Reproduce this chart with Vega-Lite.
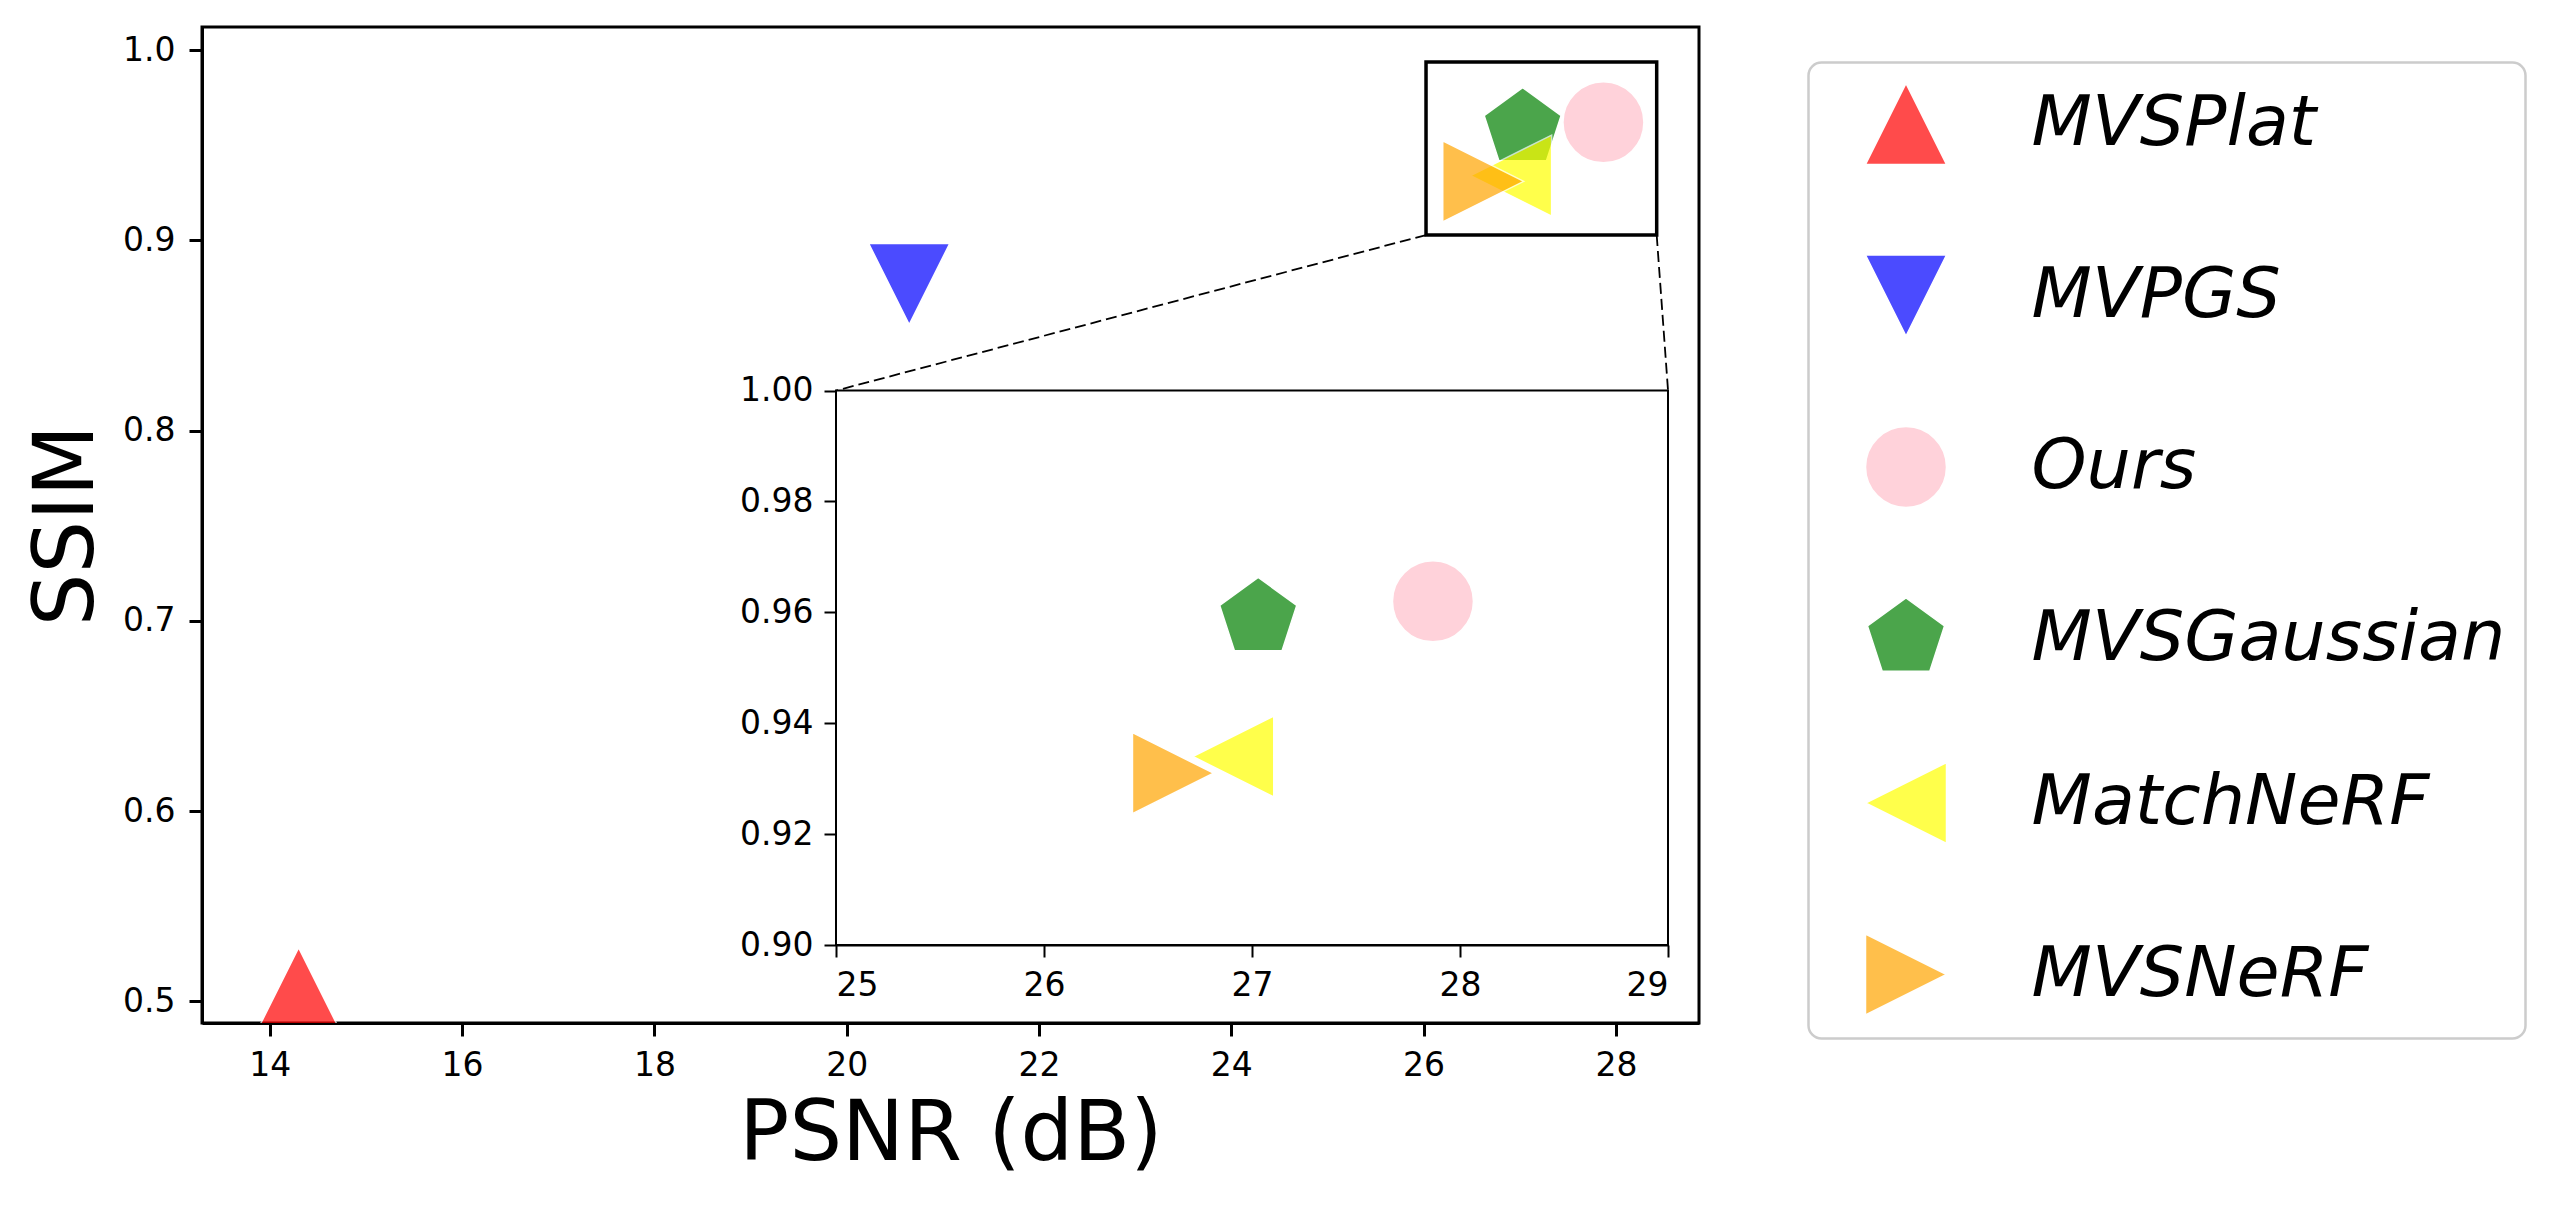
{
  "$schema": "https://vega.github.io/schema/vega-lite/v6.json",
  "width": 1497,
  "height": 996,
  "autosize": {"type": "none"},
  "padding": {"left": 202, "top": 27, "right": 856, "bottom": 182},
  "background": "white",
  "datasets": {
    "methods": [
      {"method": "MVSPlat", "psnr": 14.30, "ssim": 0.507},
      {"method": "MVPGS", "psnr": 20.65, "ssim": 0.877},
      {"method": "Ours", "psnr": 27.87, "ssim": 0.962},
      {"method": "MVSGaussian", "psnr": 27.03, "ssim": 0.959},
      {"method": "MatchNeRF", "psnr": 26.91, "ssim": 0.934},
      {"method": "MVSNeRF", "psnr": 26.62, "ssim": 0.931}
    ],
    "zoomBox": [
      {"x1": 26.025, "x2": 28.424, "y1": 0.90278, "y2": 0.99369}
    ],
    "connectors": [
      {"x": 26.025, "y": 0.90278, "x2": 19.889, "y2": 0.82102},
      {"x": 28.424, "y": 0.90278, "x2": 28.542, "y2": 0.82102}
    ],
    "insetFrame": [
      {"x1": 25, "x2": 29, "y1": 0.90, "y2": 1.00}
    ]
  },
  "layer": [
    {
      "layer": [
        {
          "data": {"name": "methods"},
          "mark": {"type": "point", "filled": true, "opacity": 0.7, "stroke": "white", "strokeWidth": 1.5, "size": 6561, "clip": true},
          "encoding": {
            "x": {
              "field": "psnr", "type": "quantitative", "title": "PSNR (dB)",
              "scale": {"domain": [13.295, 28.864], "nice": false, "zero": false},
              "axis": {
                "values": [14, 16, 18, 20, 22, 24, 26, 28], "format": "d",
                "tickSize": 13, "tickWidth": 3, "domainWidth": 3, "labelPadding": 13,
                "titleFontSize": 83, "titlePadding": 11
              }
            },
            "y": {
              "field": "ssim", "type": "quantitative", "title": "SSIM",
              "scale": {"domain": [0.4887, 1.0121], "nice": false, "zero": false},
              "axis": {
                "values": [0.5, 0.6, 0.7, 0.8, 0.9, 1.0], "format": ".1f",
                "tickSize": 13, "tickWidth": 3, "domainWidth": 3, "labelPadding": 14,
                "titleFontSize": 83, "titlePadding": 30, "titleBaseline": "alphabetic"
              }
            },
            "color": {
              "field": "method", "type": "nominal",
              "scale": {
                "domain": ["MVSPlat", "MVPGS", "Ours", "MVSGaussian", "MatchNeRF", "MVSNeRF"],
                "range": ["#ff0000", "#0000ff", "#ffc0cb", "#008000", "#ffff00", "#ffa500"]
              },
              "legend": null
            },
            "shape": {
              "field": "method", "type": "nominal",
              "scale": {
                "domain": ["MVSPlat", "MVPGS", "Ours", "MVSGaussian", "MatchNeRF", "MVSNeRF"],
                "range": [
                  "M0,-1L1,1L-1,1Z",
                  "M0,1L1,-1L-1,-1Z",
                  "circle",
                  "M0,-1L0.951,-0.309L0.588,0.809L-0.588,0.809L-0.951,-0.309Z",
                  "M-1,0L1,-1L1,1Z",
                  "M1,0L-1,-1L-1,1Z"
                ]
              },
              "legend": null
            }
          }
        },
        {
          "data": {"name": "zoomBox"},
          "mark": {"type": "rect", "filled": false, "color": "black", "strokeWidth": 3.5},
          "encoding": {
            "x": {
              "field": "x1", "type": "quantitative", "title": "PSNR (dB)",
              "scale": {"domain": [13.295, 28.864], "nice": false, "zero": false},
              "axis": {
                "values": [14, 16, 18, 20, 22, 24, 26, 28], "format": "d",
                "tickSize": 13, "tickWidth": 3, "domainWidth": 3, "labelPadding": 13,
                "titleFontSize": 83, "titlePadding": 11
              }
            },
            "x2": {"field": "x2"},
            "y": {
              "field": "y1", "type": "quantitative", "title": "SSIM",
              "scale": {"domain": [0.4887, 1.0121], "nice": false, "zero": false},
              "axis": {
                "values": [0.5, 0.6, 0.7, 0.8, 0.9, 1.0], "format": ".1f",
                "tickSize": 13, "tickWidth": 3, "domainWidth": 3, "labelPadding": 14,
                "titleFontSize": 83, "titlePadding": 30, "titleBaseline": "alphabetic"
              }
            },
            "y2": {"field": "y2"}
          }
        },
        {
          "data": {"name": "connectors"},
          "mark": {"type": "rule", "color": "black", "strokeWidth": 1.8, "strokeDash": [11, 5]},
          "encoding": {
            "x": {
              "field": "x", "type": "quantitative", "title": "PSNR (dB)",
              "scale": {"domain": [13.295, 28.864], "nice": false, "zero": false},
              "axis": {
                "values": [14, 16, 18, 20, 22, 24, 26, 28], "format": "d",
                "tickSize": 13, "tickWidth": 3, "domainWidth": 3, "labelPadding": 13,
                "titleFontSize": 83, "titlePadding": 11
              }
            },
            "x2": {"field": "x2"},
            "y": {
              "field": "y", "type": "quantitative", "title": "SSIM",
              "scale": {"domain": [0.4887, 1.0121], "nice": false, "zero": false},
              "axis": {
                "values": [0.5, 0.6, 0.7, 0.8, 0.9, 1.0], "format": ".1f",
                "tickSize": 13, "tickWidth": 3, "domainWidth": 3, "labelPadding": 14,
                "titleFontSize": 83, "titlePadding": 30, "titleBaseline": "alphabetic"
              }
            },
            "y2": {"field": "y2"}
          }
        }
      ]
    },
    {
      "layer": [
        {
          "data": {"name": "insetFrame"},
          "mark": {"type": "rect", "fill": "white", "stroke": "black", "strokeWidth": 2},
          "encoding": {
            "x": {
              "field": "x1", "type": "quantitative", "title": null,
              "scale": {"domain": [25, 29], "range": [634, 1466], "nice": false, "zero": false},
              "axis": {
                "orient": "bottom", "offset": -78, "title": null,
                "values": [25, 26, 27, 28, 29], "format": "d",
                "tickSize": 12, "tickWidth": 2, "domainWidth": 2, "labelPadding": 12
              }
            },
            "x2": {"field": "x2"},
            "y": {
              "field": "y1", "type": "quantitative", "title": null,
              "scale": {"domain": [0.9, 1.0], "range": [918, 363.6], "nice": false, "zero": false},
              "axis": {
                "orient": "left", "offset": -634, "title": null,
                "values": [0.9, 0.92, 0.94, 0.96, 0.98, 1.0], "format": ".2f",
                "tickSize": 12, "tickWidth": 2, "domainWidth": 2, "labelPadding": 11
              }
            },
            "y2": {"field": "y2"}
          }
        },
        {
          "data": {"name": "methods"},
          "transform": [{"filter": "datum.psnr >= 25"}],
          "mark": {"type": "point", "filled": true, "opacity": 0.7, "stroke": "white", "strokeWidth": 1.5, "size": 6561},
          "encoding": {
            "x": {
              "field": "psnr", "type": "quantitative", "title": null,
              "scale": {"domain": [25, 29], "range": [634, 1466], "nice": false, "zero": false},
              "axis": {
                "orient": "bottom", "offset": -78, "title": null,
                "values": [25, 26, 27, 28, 29], "format": "d",
                "tickSize": 12, "tickWidth": 2, "domainWidth": 2, "labelPadding": 12
              }
            },
            "y": {
              "field": "ssim", "type": "quantitative", "title": null,
              "scale": {"domain": [0.9, 1.0], "range": [918, 363.6], "nice": false, "zero": false},
              "axis": {
                "orient": "left", "offset": -634, "title": null,
                "values": [0.9, 0.92, 0.94, 0.96, 0.98, 1.0], "format": ".2f",
                "tickSize": 12, "tickWidth": 2, "domainWidth": 2, "labelPadding": 11
              }
            },
            "color": {
              "field": "method", "type": "nominal",
              "scale": {
                "domain": ["MVSPlat", "MVPGS", "Ours", "MVSGaussian", "MatchNeRF", "MVSNeRF"],
                "range": ["#ff0000", "#0000ff", "#ffc0cb", "#008000", "#ffff00", "#ffa500"]
              },
              "legend": {
                "title": null, "orient": "none", "legendX": 1606.5, "legendY": 35.5,
                "fillColor": "white", "strokeColor": "#cccccc",
                "symbolOpacity": 0.7,
                "encode": {
                  "symbols": {"update": {"opacity": {"value": 0.7}, "stroke": {"value": "white"}, "strokeWidth": {"value": 1.5}}},
                  "legend": {"update": {"strokeWidth": {"value": 2.5}}}
                }
              }
            },
            "shape": {
              "field": "method", "type": "nominal",
              "scale": {
                "domain": ["MVSPlat", "MVPGS", "Ours", "MVSGaussian", "MatchNeRF", "MVSNeRF"],
                "range": [
                  "M0,-1L1,1L-1,1Z",
                  "M0,1L1,-1L-1,-1Z",
                  "circle",
                  "M0,-1L0.951,-0.309L0.588,0.809L-0.588,0.809L-0.951,-0.309Z",
                  "M-1,0L1,-1L1,1Z",
                  "M1,0L-1,-1L-1,1Z"
                ]
              },
              "legend": {
                "title": null, "orient": "none", "legendX": 1606.5, "legendY": 35.5,
                "fillColor": "white", "strokeColor": "#cccccc",
                "symbolOpacity": 0.7,
                "encode": {
                  "symbols": {"update": {"opacity": {"value": 0.7}, "stroke": {"value": "white"}, "strokeWidth": {"value": 1.5}}},
                  "legend": {"update": {"strokeWidth": {"value": 2.5}}}
                }
              }
            }
          }
        }
      ]
    }
  ],
  "resolve": {
    "scale": {"x": "independent", "y": "independent"},
    "legend": {"color": "independent", "shape": "independent"}
  },
  "config": {
    "view": {"stroke": "black", "strokeWidth": 3},
    "font": "DejaVu Sans",
    "axis": {
      "labelFont": "DejaVu Sans", "labelFontSize": 33, "labelColor": "black",
      "titleFont": "DejaVu Sans", "titleFontWeight": "normal", "titleColor": "black",
      "grid": false, "domainColor": "black", "tickColor": "black", "zindex": 1
    },
    "legend": {
      "labelFont": "DejaVu Sans", "labelFontSize": 70, "labelFontStyle": "italic",
      "labelColor": "black", "labelLimit": 1000,
      "symbolSize": 6561, "symbolStrokeWidth": 1.5, "symbolStrokeColor": "white",
      "padding": 20, "rowPadding": 84.5, "symbolOffset": 36, "labelOffset": 84,
      "cornerRadius": 13
    }
  }
}
